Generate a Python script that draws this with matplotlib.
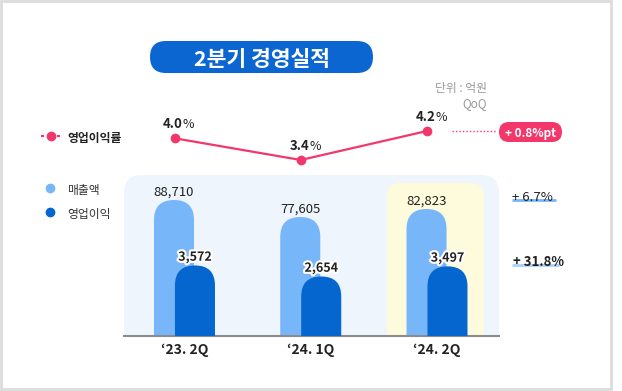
import matplotlib.pyplot as plt
import matplotlib.patheffects as pe
from matplotlib.patches import FancyBboxPatch, Rectangle

plt.rcParams['font.family'] = ['Noto Sans CJK KR', 'DejaVu Sans']

quarters = ['\u201823. 2Q', '\u201824. 1Q', '\u201824. 2Q']
revenue = [88710, 77605, 82823]
op_profit = [3572, 2654, 3497]
op_margin = [4.0, 3.4, 4.2]
revenue_labels = ['88,710', '77,605', '82,823']
profit_labels = ['3,572', '2,654', '3,497']
margin_change = '+ 0.8%pt'
revenue_change = '+ 6.7%'
profit_change = '+ 31.8%'

PINK = '#f2386b'
LIGHT = '#78b6fa'
DARK = '#0566d0'
TXT = '#222222'
VA = 'center_baseline'

W, H = 622, 391
fig = plt.figure(figsize=(W / 100, H / 100), dpi=100)
fig.patch.set_facecolor('white')

# decoration layer in pixel coordinates
deco = fig.add_axes([0, 0, 1, 1], zorder=0)
deco.set_xlim(0, W)
deco.set_ylim(H, 0)
deco.axis('off')

deco.add_patch(Rectangle((1, 1), 610, 388, fill=False, ec='#dcdcdc', lw=2))

# title pill
deco.add_patch(FancyBboxPatch((150, 41), 223, 32, boxstyle='round,pad=0,rounding_size=16',
                              fc='#0b66d2', ec='none'))
deco.text(261.5, 58, '2분기 경영실적', color='white', fontsize=15.5, fontweight='bold',
          ha='center', va=VA)

deco.text(487, 87, '단위 : 억원', color='#9a9a9a', fontsize=8.5, ha='right', va=VA)
deco.text(487, 102, 'QoQ', color='#9a9a9a', fontsize=8.5, ha='right', va=VA)

# panel and highlight
deco.add_patch(FancyBboxPatch((124, 175), 375, 161, boxstyle='round,pad=0,rounding_size=18',
                              fc='#eef5fd', ec='none'))
deco.add_patch(Rectangle((124, 316), 375, 20, fc='#eef5fd', ec='none'))
deco.add_patch(FancyBboxPatch((387, 183), 97, 153, boxstyle='round,pad=0,rounding_size=14',
                              fc='#fefbdc', ec='none'))
deco.add_patch(Rectangle((387, 316), 97, 20, fc='#fefbdc', ec='none'))

# legend
deco.plot([41, 44], [136, 136], color=PINK, lw=1.5, solid_capstyle='butt')
deco.plot([57, 60], [136, 136], color=PINK, lw=1.5, solid_capstyle='butt')
deco.plot([50.5], [136], 'o', color=PINK, ms=6)
deco.text(67, 137, '영업이익률', color=TXT, fontsize=8.5, fontweight='bold', va=VA)
deco.plot([50], [188], 'o', color=LIGHT, ms=6)
deco.text(67, 189, '매출액', color='#333333', fontsize=8.5, va=VA)
deco.plot([50], [212], 'o', color=DARK, ms=6)
deco.text(67, 213, '영업이익', color='#333333', fontsize=8.5, va=VA)

# right-side QoQ notes
deco.plot([452, 497], [131, 131], color=PINK, lw=1, ls=(0, (1, 1.5)))
deco.add_patch(FancyBboxPatch((499, 122), 63, 20, boxstyle='round,pad=0,rounding_size=10',
                              fc=PINK, ec='none'))
deco.text(530.5, 132.5, margin_change, color='white', fontsize=8.5, fontweight='bold',
          ha='center', va=VA)
deco.plot([512, 556], [199.5, 199.5], color=LIGHT, lw=2, solid_capstyle='butt')
deco.text(512, 201, revenue_change, color=TXT, fontsize=9.5, ha='left', va='baseline')
deco.plot([512, 559], [264.5, 264.5], color='#a8d0fb', lw=2, solid_capstyle='butt')
deco.text(513, 266.5, profit_change, color=TXT, fontsize=9.5, fontweight='bold',
          ha='left', va='baseline')

# bar axes
pos = [124 / W, (H - 336) / H, 375 / W, 161 / H]
ax = fig.add_axes(pos, zorder=2)
ax.patch.set_alpha(0)
xlim = (-0.479, 2.491)
ax.set_xlim(*xlim)
ax.set_ylim(0, 105000)
for s in ['top', 'right', 'left']:
    ax.spines[s].set_visible(False)
ax.spines['bottom'].set_color('#8c8c8c')
ax.spines['bottom'].set_linewidth(1.5)
ax.set_yticks([])
ax.set_xticks(range(len(quarters)))
ax.set_xticklabels(quarters, fontsize=10, fontweight='bold', color=TXT)
ax.tick_params(axis='x', length=0, pad=5)

ax2 = ax.twinx()
ax2.patch.set_alpha(0)
op_floor = -2300
ax2.set_ylim(op_floor, 11100)
ax2.axis('off')

bw = 0.317
shift = 0.083
ax_w_px = 375
ax_h_px = 161
x_per_px = (xlim[1] - xlim[0]) / ax_w_px


def capsule(axis, x, top, bottom, color):
    y0, y1 = axis.get_ylim()
    y_per_px = (y1 - y0) / ax_h_px
    p = FancyBboxPatch((x - bw / 2, bottom), bw, top - bottom,
                       boxstyle='round,pad=0,rounding_size=%f' % (bw / 2),
                       mutation_aspect=y_per_px / x_per_px, fc=color, ec='none')
    axis.add_patch(p)


for i in range(len(quarters)):
    capsule(ax, i - shift, revenue[i], -20000, LIGHT)
    ax.annotate(revenue_labels[i], (i - shift, revenue[i]), xytext=(0, 7),
                textcoords='offset points', ha='center', va=VA,
                fontsize=9.5, color=TXT)
    capsule(ax2, i + shift, op_profit[i], op_floor - 3000, DARK)
    ax2.annotate(profit_labels[i], (i + shift, op_profit[i]), xytext=(0, 7),
                 textcoords='offset points', ha='center', va=VA,
                 fontsize=9, fontweight='bold', color=TXT,
                 path_effects=[pe.withStroke(linewidth=3, foreground='white')])

# margin line axes
axl = fig.add_axes([124 / W, (H - 175) / H, 375 / W, 75 / H], zorder=3)
axl.patch.set_alpha(0)
axl.set_xlim(-0.4, 2.57)
axl.set_ylim(2.986, 5.055)
axl.axis('off')
axl.plot(range(len(op_margin)), op_margin, color=PINK, lw=1.6, marker='o', ms=6, clip_on=False)
for i, v in enumerate(op_margin):
    axl.annotate('%.1f' % v, (i, v), xytext=(6, 11), textcoords='offset points',
                 ha='right', va=VA, fontsize=9.5, fontweight='bold', color=TXT,
                 annotation_clip=False)
    axl.annotate('%', (i, v), xytext=(6, 11), textcoords='offset points',
                 ha='left', va=VA, fontsize=9, color=TXT, annotation_clip=False)

fig.savefig('out.png', dpi=100, facecolor='white')
